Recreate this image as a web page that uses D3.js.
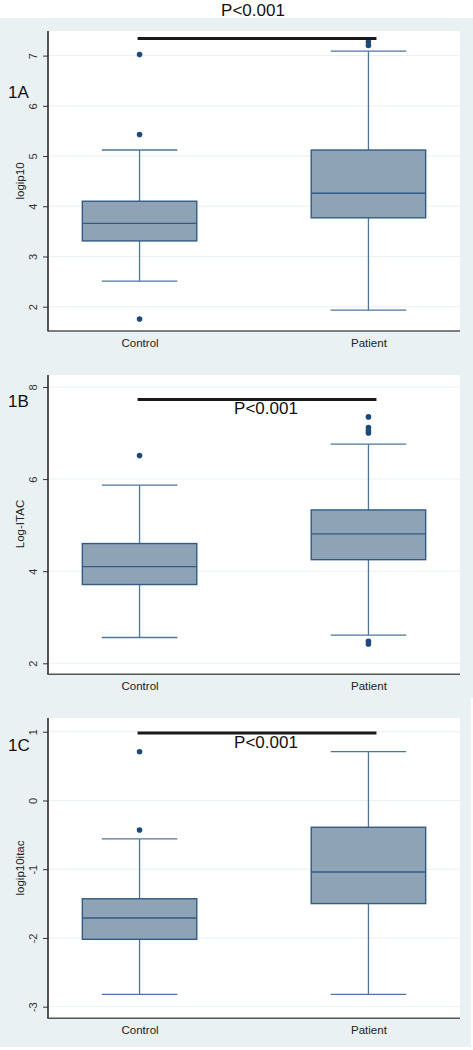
<!DOCTYPE html>
<html>
<head>
<meta charset="utf-8">
<script src="https://cdn.jsdelivr.net/npm/d3@7"></script>
<style>
  html, body { margin: 0; padding: 0; background: #ffffff; }
  svg { display: block; }
</style>
</head>
<body>
<svg id="chart" width="473" height="1050"></svg>
<script>
// ---------- DATA ----------
const categories = ["Control", "Patient"];

// Panel 1A (logip10)
const aLowWhisker = [2.51, 1.93];
const aQ1 = [3.31, 3.77];
const aMedian = [3.66, 4.26];
const aQ3 = [4.10, 5.12];
const aHighWhisker = [5.12, 7.09];
const aOutliersControl = [7.02, 5.43, 1.755];
const aOutliersPatient = [7.20, 7.27];
const aTicks = [2, 3, 4, 5, 6, 7];
const aSigLevel = 7.34;

// Panel 1B (Log-ITAC)
const bLowWhisker = [2.56, 2.61];
const bQ1 = [3.71, 4.25];
const bMedian = [4.10, 4.81];
const bQ3 = [4.60, 5.33];
const bHighWhisker = [5.87, 6.76];
const bOutliersControl = [6.51];
const bOutliersPatient = [7.35, 7.12, 7.05, 7.00, 2.48, 2.42];
const bTicks = [2, 4, 6, 8];
const bSigLevel = 7.73;

// Panel 1C (logip10itac)
const cLowWhisker = [-2.82, -2.82];
const cQ1 = [-2.02, -1.50];
const cMedian = [-1.71, -1.04];
const cQ3 = [-1.43, -0.39];
const cHighWhisker = [-0.56, 0.71];
const cOutliersControl = [0.71, -0.43];
const cOutliersPatient = [];
const cTicks = [-3, -2, -1, 0, 1];
const cSigLevel = 0.98;

const pLabel = "P<0.001";

// ---------- LAYOUT ----------
const svg = d3.select("#chart");
const BG = "#e9f1f3";
const BOX_FILL = "#8fa3b7";
const BOX_STROKE = "#305b83";
const WHISK = "#4c769d";
const DOT = "#1d4a78";
const GRID = "#eaf1f2";

// backgrounds
svg.append("rect").attr("x", 0).attr("y", 18).attr("width", 473).attr("height", 680).attr("fill", BG);
svg.append("rect").attr("x", 0).attr("y", 698).attr("width", 471).attr("height", 349).attr("fill", BG);

const plotLeft = 48, plotRight = 460;

const x = d3.scalePoint().domain(categories).range([plotLeft, plotRight]).padding(0.4);
const step = x.step();
const boxW = step * 0.5;
const capW = step * 0.33;

const panels = [
  { id: "1A", title: "logip10", top: 31, bottom: 331, domain: [1.516, 7.49],
    lo: aLowWhisker, q1: aQ1, med: aMedian, q3: aQ3, hi: aHighWhisker,
    out: [aOutliersControl, aOutliersPatient], ticks: aTicks, sig: aSigLevel,
    labelY: 92, titleY: 181, pPos: "top" },
  { id: "1B", title: "Log-ITAC", top: 375, bottom: 674.3, domain: [1.761, 8.26],
    lo: bLowWhisker, q1: bQ1, med: bMedian, q3: bQ3, hi: bHighWhisker,
    out: [bOutliersControl, bOutliersPatient], ticks: bTicks, sig: bSigLevel,
    labelY: 401, titleY: 524, pPos: "below" },
  { id: "1C", title: "logip10itac", top: 718, bottom: 1018.3, domain: [-3.169, 1.2],
    lo: cLowWhisker, q1: cQ1, med: cMedian, q3: cQ3, hi: cHighWhisker,
    out: [cOutliersControl, cOutliersPatient], ticks: cTicks, sig: cSigLevel,
    labelY: 745, titleY: 868, pPos: "below" }
];

panels.forEach(p => {
  const g = svg.append("g");
  const y = d3.scaleLinear().domain(p.domain).range([p.bottom, p.top]);

  // plot region
  g.append("rect").attr("x", plotLeft).attr("y", p.top)
    .attr("width", plotRight - plotLeft).attr("height", p.bottom - p.top).attr("fill", "#ffffff");

  // gridlines
  g.selectAll(".grid").data(p.ticks).join("line")
    .attr("x1", plotLeft).attr("x2", plotRight)
    .attr("y1", d => y(d)).attr("y2", d => y(d))
    .attr("stroke", GRID).attr("stroke-width", 1);

  // y axis
  const yAxis = d3.axisLeft(y).tickValues(p.ticks).tickSize(5).tickPadding(3).tickFormat(d => String(d));
  const ax = g.append("g").attr("transform", `translate(${plotLeft},0)`).call(yAxis);
  ax.select(".domain").remove();
  ax.selectAll(".tick line").attr("stroke", "#333").attr("stroke-width", 1);
  ax.selectAll(".tick text")
    .attr("font-family", "Liberation Sans, Arial, sans-serif")
    .attr("font-size", 11).attr("fill", "#333")
    .attr("x", null).attr("dy", null).attr("y", 0)
    .attr("text-anchor", "middle")
    .attr("transform", "translate(-15,0) rotate(-90)")
    .attr("dominant-baseline", "central");

  // axis lines
  g.append("line").attr("x1", plotLeft).attr("x2", plotLeft)
    .attr("y1", p.top).attr("y2", p.bottom + 0.5)
    .attr("stroke", "#2a2a2a").attr("stroke-width", 1.6);
  g.append("line").attr("x1", plotLeft).attr("x2", plotRight)
    .attr("y1", p.bottom).attr("y2", p.bottom)
    .attr("stroke", "#555").attr("stroke-width", 1.6);

  // x axis labels
  const xa = d3.axisBottom(x).tickSize(0).tickPadding(8);
  const xg = g.append("g").attr("transform", `translate(0,${p.bottom})`).call(xa);
  xg.select(".domain").remove();
  xg.selectAll(".tick text").attr("font-family", "Liberation Sans, Arial, sans-serif")
    .attr("font-size", 11.5).attr("fill", "#222");

  // axis title
  g.append("text").attr("transform", `translate(20,${p.titleY}) rotate(-90)`)
    .attr("text-anchor", "middle").attr("dominant-baseline", "central")
    .attr("font-family", "Liberation Sans, Arial, sans-serif").attr("font-size", 11.5)
    .attr("fill", "#222").text(p.title);

  // boxes
  categories.forEach((c, i) => {
    const cx = x(c);
    g.append("line").attr("x1", cx).attr("x2", cx).attr("y1", y(p.q3[i])).attr("y2", y(p.hi[i]))
      .attr("stroke", WHISK).attr("stroke-width", 1.3);
    g.append("line").attr("x1", cx).attr("x2", cx).attr("y1", y(p.q1[i])).attr("y2", y(p.lo[i]))
      .attr("stroke", WHISK).attr("stroke-width", 1.3);
    [p.hi[i], p.lo[i]].forEach(v => {
      g.append("line").attr("x1", cx - capW / 2).attr("x2", cx + capW / 2)
        .attr("y1", y(v)).attr("y2", y(v))
        .attr("stroke", WHISK).attr("stroke-width", 1.3);
    });
    g.append("rect").attr("x", cx - boxW / 2).attr("width", boxW)
      .attr("y", y(p.q3[i])).attr("height", y(p.q1[i]) - y(p.q3[i]))
      .attr("fill", BOX_FILL).attr("stroke", BOX_STROKE).attr("stroke-width", 1.4);
    g.append("line").attr("x1", cx - boxW / 2).attr("x2", cx + boxW / 2)
      .attr("y1", y(p.med[i])).attr("y2", y(p.med[i]))
      .attr("stroke", BOX_STROKE).attr("stroke-width", 1.4);
    g.selectAll(null).data(p.out[i]).join("circle")
      .attr("cx", cx).attr("cy", d => y(d)).attr("r", 2.8).attr("fill", DOT);
  });

  // significance bar
  const x1 = x(categories[0]) - 2, x2 = x(categories[1]) + 8;
  g.append("line").attr("x1", x1).attr("x2", x2)
    .attr("y1", y(p.sig)).attr("y2", y(p.sig))
    .attr("stroke", "#1a1a1a").attr("stroke-width", 3);

  // P label
  const pt = g.append("text").attr("font-family", "Liberation Sans, Arial, sans-serif")
    .attr("font-size", 17).attr("fill", "#111").text(pLabel);
  if (p.pPos === "top") {
    pt.attr("x", 253).attr("y", 16).attr("text-anchor", "middle");
  } else {
    pt.attr("x", (x1 + x2) / 2 + 9).attr("y", y(p.sig) + 15).attr("text-anchor", "middle");
  }

  // panel label
  g.append("text").attr("x", 8).attr("y", p.labelY + 6)
    .attr("font-family", "Liberation Sans, Arial, sans-serif").attr("font-size", 17)
    .attr("fill", "#111").text(p.id);
});
</script>
</body>
</html>
